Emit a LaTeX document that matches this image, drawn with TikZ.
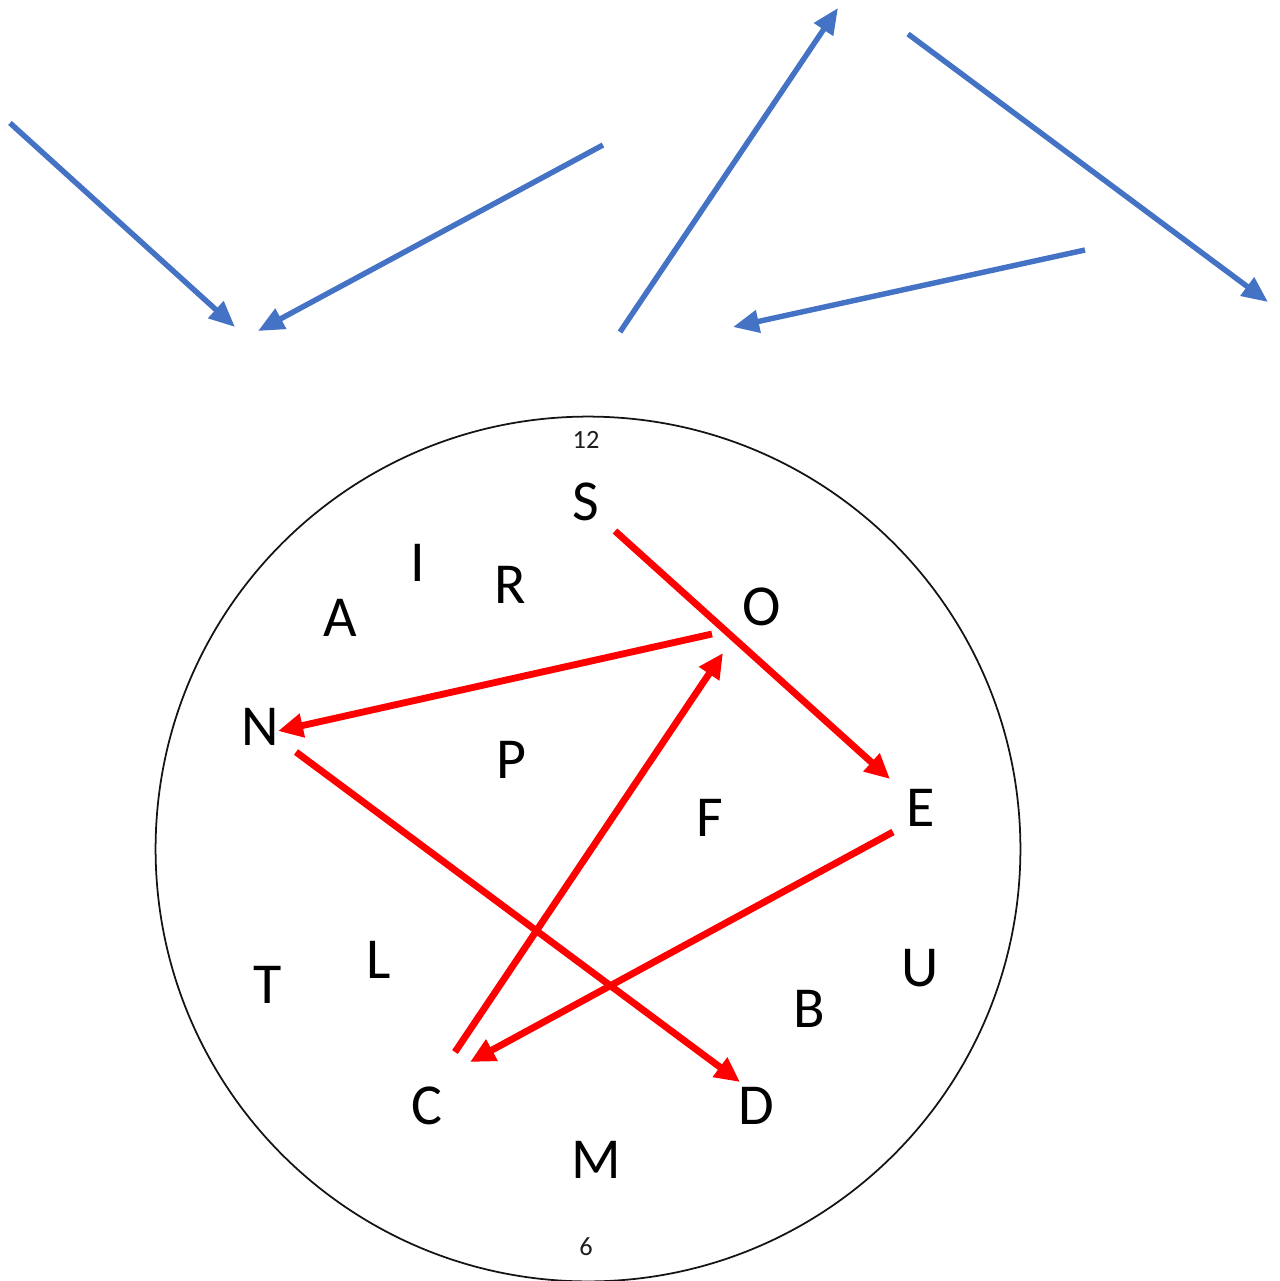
\documentclass[tikz,border=0pt]{standalone}
\usepackage{fontspec}
\setmainfont{Carlito}
\usetikzlibrary{arrows.meta}
\begin{document}
\begin{tikzpicture}[x=0.02cm,y=-0.02cm,
  bluearr/.style={draw={rgb,255:red,68;green,114;blue,196}, line width=3.1pt,
    -{Triangle[length=0.52cm,width=0.44cm]}},
  redarr/.style={draw=red, line width=3.9pt, -{Triangle[length=0.5cm,width=0.46cm]}},
  letter/.style={inner sep=0pt, font=\fontsize{33}{36}\selectfont},
  num/.style={inner sep=0pt, font=\fontsize{15}{17}\selectfont, text={rgb,255:red,30;green,30;blue,30}}]
\useasboundingbox (0,0) rectangle (1280,1281);
% blue arrows
\coordinate (b1s) at (10,123);  \coordinate (b1e) at (235,327);
\coordinate (b2s) at (603,145); \coordinate (b2e) at (258,331);
\coordinate (b3s) at (620,332); \coordinate (b3e) at (838,8);
\coordinate (b4s) at (908,34);  \coordinate (b4e) at (1268,302);
\coordinate (b5s) at (1085,250);\coordinate (b5e) at (733,327);
\draw[bluearr] (b1s) -- (b1e);
\draw[bluearr] (b2s) -- (b2e);
\draw[bluearr] (b3s) -- (b3e);
\draw[bluearr] (b4s) -- (b4e);
\draw[bluearr] (b5s) -- (b5e);
% clock face
\node[draw={rgb,255:red,20;green,20;blue,20}, line width=1pt, circle, minimum size=17.3cm, inner sep=0pt] (face) at (588,849) {};
\node[num] (n12) at (586,440) {12};
\node[num] (n6) at (586,1247) {6};
% letters
\node[letter] (S) at (586,502) {S};
\node[letter] (I) at (418,563) {I};
\node[letter] (R) at (510,585) {R};
\node[letter] (A) at (340,618) {A};
\node[letter] (O) at (762,607) {O};
\node[letter] (N) at (260,727) {N};
\node[letter] (P) at (511,760) {P};
\node[letter] (F) at (710,818) {F};
\node[letter] (E) at (921,808) {E};
\node[letter] (T) at (268,985) {T};
\node[letter] (L) at (379,960) {L};
\node[letter] (U) at (920,968) {U};
\node[letter] (B) at (809,1009) {B};
\node[letter] (C) at (427,1106) {C};
\node[letter] (D) at (756,1106) {D};
\node[letter] (M) at (596,1160) {M};
% red arrow ends
\coordinate (SEs) at (615,531);  \coordinate (SEe) at (890,779);
\coordinate (ONs) at (712,634);  \coordinate (ONe) at (278,731);
\coordinate (COs) at (455,1052); \coordinate (COe) at (723,653);
\coordinate (ECs) at (893,832);  \coordinate (ECe) at (470,1062);
\coordinate (NDs) at (296,752);  \coordinate (NDe) at (740,1082);
\draw[redarr] (SEs) -- (SEe);
\draw[redarr] (ONs) -- (ONe);
\draw[redarr] (COs) -- (COe);
\draw[redarr] (ECs) -- (ECe);
\draw[redarr] (NDs) -- (NDe);
\end{tikzpicture}
\end{document}
